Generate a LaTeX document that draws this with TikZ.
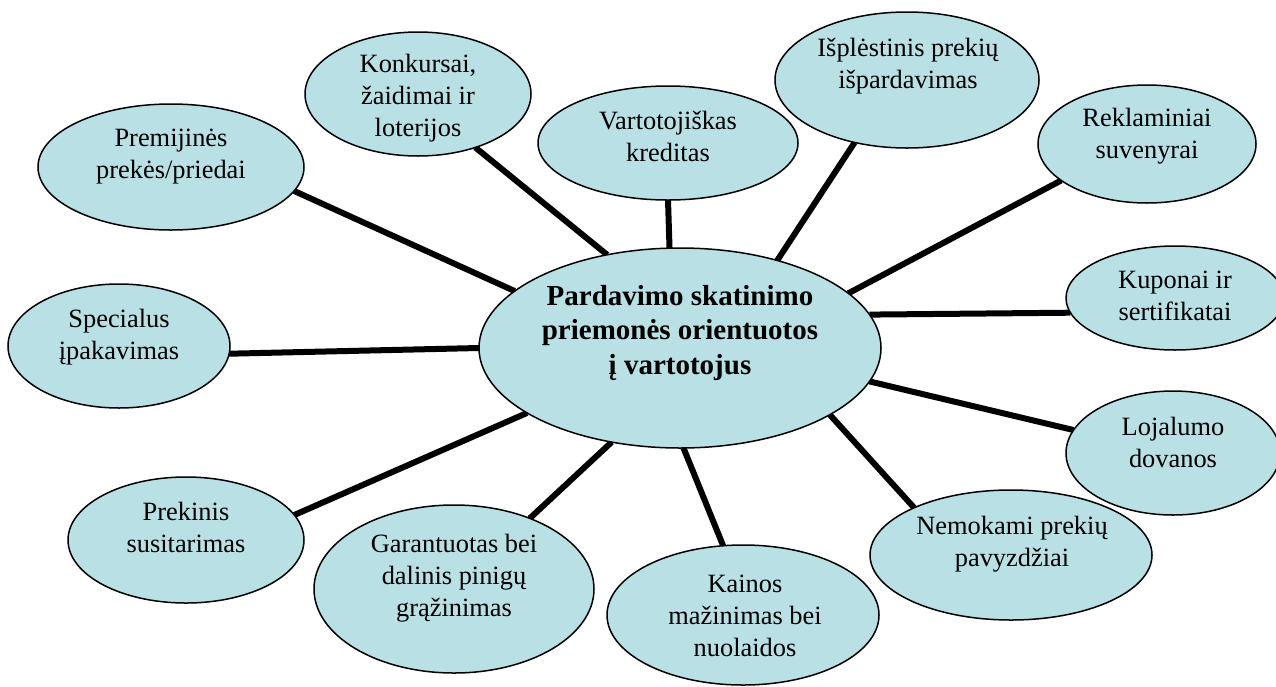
\documentclass[tikz,border=0pt]{standalone}
\usepackage{fontspec}
\setmainfont{Liberation Serif}
\usetikzlibrary{shapes.geometric,backgrounds}
\definecolor{bubblefill}{RGB}{185,224,228}
\begin{document}
\begin{tikzpicture}[x=1pt,y=-1pt,
  bubble/.style={ellipse, draw=black, line width=1.5pt, fill=bubblefill, inner sep=0pt, outer sep=0pt},
  lbl/.style={align=center, font=\fontsize{26.4}{32}\selectfont, inner sep=0pt},
  mainlbl/.style={align=center, font=\bfseries\fontsize{29}{34.5}\selectfont, inner sep=0pt},
  spoke/.style={line width=6pt}]
\useasboundingbox (0,0) rectangle (1276,686);
\clip (0,0) rectangle (1276,686);
% ellipses
\node[bubble, minimum width=402pt, minimum height=200pt] (main) at (680,348) {};
\node[bubble, minimum width=266pt, minimum height=126pt] (prem) at (171,167) {};
\node[bubble, minimum width=226pt, minimum height=124pt] (konk) at (418,94) {};
\node[bubble, minimum width=260pt, minimum height=114pt] (vart) at (668,143) {};
\node[bubble, minimum width=264pt, minimum height=136pt] (ispl) at (907,80) {};
\node[bubble, minimum width=218pt, minimum height=118pt] (rekl) at (1147,144) {};
\node[bubble, minimum width=218pt, minimum height=104pt] (kup) at (1175,298) {};
\node[bubble, minimum width=222pt, minimum height=124pt] (spec) at (119,346) {};
\node[bubble, minimum width=214pt, minimum height=124pt] (loj) at (1173,453) {};
\node[bubble, minimum width=236pt, minimum height=126pt] (prek) at (186,540) {};
\node[bubble, minimum width=282pt, minimum height=130pt] (nem) at (1011,555) {};
\node[bubble, minimum width=280pt, minimum height=168pt] (gar) at (454,589) {};
\node[bubble, minimum width=272pt, minimum height=140pt] (kain) at (743,615) {};
% texts
\node[mainlbl] (main-t) at (680,333) {Pardavimo skatinimo\\priemonės orientuotos\\į vartotojus};
\node[lbl] (prem-t) at (171,157) {Premijinės\\prekės/priedai};
\node[lbl] (konk-t) at (418,98) {Konkursai,\\žaidimai ir\\loterijos};
\node[lbl] (vart-t) at (668,136) {Vartotojiškas\\kreditas};
\node[lbl] (ispl-t) at (908,66) {Išplėstinis prekių\\išpardavimas};
\node[lbl] (rekl-t) at (1147,136) {Reklaminiai\\suvenyrai};
\node[lbl] (kup-t) at (1175,296) {Kuponai ir\\sertifikatai};
\node[lbl] (spec-t) at (119,337) {Specialus\\įpakavimas};
\node[lbl] (loj-t) at (1173,442) {Lojalumo\\dovanos};
\node[lbl] (prek-t) at (186,527) {Prekinis\\susitarimas};
\node[lbl] (nem-t) at (1012,544) {Nemokami prekių\\pavyzdžiai};
\node[lbl] (gar-t) at (454,578) {Garantuotas bei\\dalinis pinigų\\grąžinimas};
\node[lbl] (kain-t) at (745,616) {Kainos\\mažinimas bei\\nuolaidos};
% connectors
\begin{scope}[on background layer]
\draw[spoke] (prem.-11.75) -- (main.161.2);
\draw[spoke] (konk.-43.5) -- (main.128.7);
\draw[spoke] (vart.-90) -- (main.96.8);
\draw[spoke] (ispl.-130.2) -- (main.42.9);
\draw[spoke] (rekl.-157.6) -- (main.18.6);
\draw[spoke] (kup.-172) -- (main.10.5);
\draw[spoke] (spec.-4.1) -- (main.180.6);
\draw[spoke] (loj.167) -- (main.-10.2);
\draw[spoke] (prek.13.8) -- (main.-157);
\draw[spoke] (gar.43.5) -- (main.-126.6);
\draw[spoke] (kain.106.7) -- (main.-88.3);
\draw[spoke] (nem.154.8) -- (main.-24.7);
\end{scope}
\end{tikzpicture}
\end{document}
